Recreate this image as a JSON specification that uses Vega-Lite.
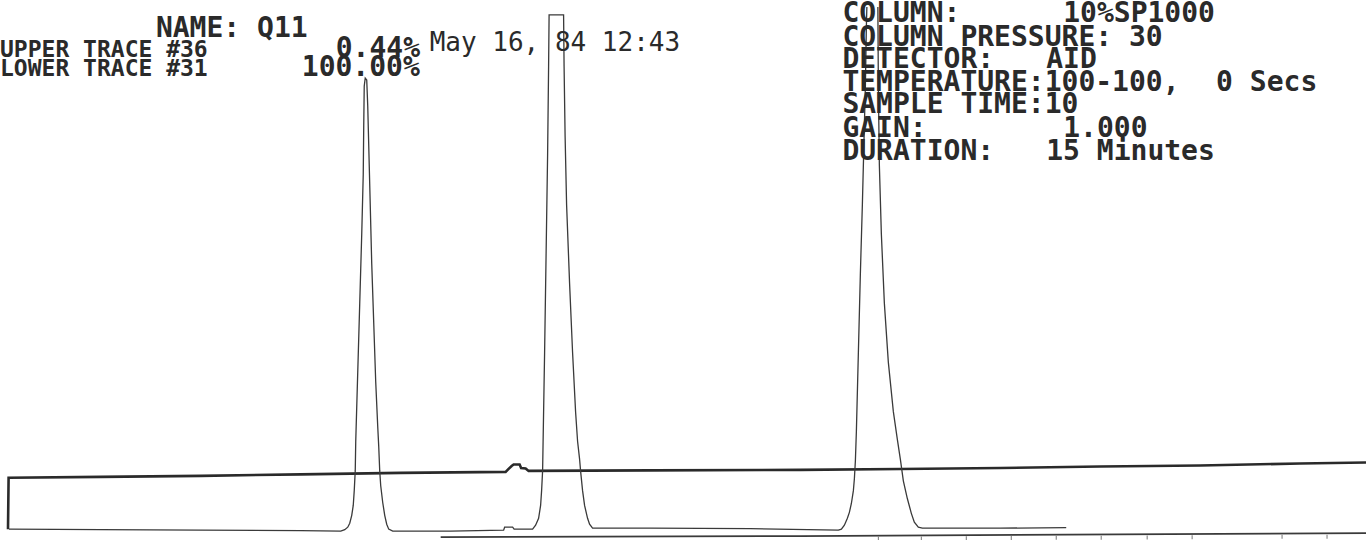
{
  "$schema": "https://vega.github.io/schema/vega-lite/v6.json",
  "width": 1366,
  "height": 540,
  "autosize": {"type": "fit", "contains": "padding"},
  "padding": 0,
  "background": "white",
  "config": {"view": {"stroke": null}},
  "datasets": {
    "traces": [
      {"trace": "upper #36", "t": 7, "signal": 11},
      {"trace": "upper #36", "t": 7.6, "signal": 63},
      {"trace": "upper #36", "t": 100, "signal": 64},
      {"trace": "upper #36", "t": 200, "signal": 65},
      {"trace": "upper #36", "t": 300, "signal": 66.5},
      {"trace": "upper #36", "t": 400, "signal": 68},
      {"trace": "upper #36", "t": 505, "signal": 69},
      {"trace": "upper #36", "t": 508, "signal": 72},
      {"trace": "upper #36", "t": 511, "signal": 75},
      {"trace": "upper #36", "t": 513, "signal": 76.5},
      {"trace": "upper #36", "t": 519, "signal": 76.5},
      {"trace": "upper #36", "t": 520.5, "signal": 73},
      {"trace": "upper #36", "t": 525, "signal": 72.5},
      {"trace": "upper #36", "t": 528, "signal": 70},
      {"trace": "upper #36", "t": 650, "signal": 70.5},
      {"trace": "upper #36", "t": 800, "signal": 71},
      {"trace": "upper #36", "t": 900, "signal": 72},
      {"trace": "upper #36", "t": 1000, "signal": 73},
      {"trace": "upper #36", "t": 1100, "signal": 74.5},
      {"trace": "upper #36", "t": 1200, "signal": 75.5},
      {"trace": "upper #36", "t": 1300, "signal": 77.5},
      {"trace": "upper #36", "t": 1366, "signal": 78.5},
      {"trace": "lower #31", "t": 8, "signal": 11},
      {"trace": "lower #31", "t": 100, "signal": 10.5},
      {"trace": "lower #31", "t": 200, "signal": 10},
      {"trace": "lower #31", "t": 300, "signal": 9.5},
      {"trace": "lower #31", "t": 340, "signal": 9},
      {"trace": "lower #31", "t": 344, "signal": 10.5},
      {"trace": "lower #31", "t": 347, "signal": 13},
      {"trace": "lower #31", "t": 349, "signal": 17},
      {"trace": "lower #31", "t": 351, "signal": 25},
      {"trace": "lower #31", "t": 352.5, "signal": 35},
      {"trace": "lower #31", "t": 353.5, "signal": 50},
      {"trace": "lower #31", "t": 354.5, "signal": 70},
      {"trace": "lower #31", "t": 355, "signal": 100},
      {"trace": "lower #31", "t": 357, "signal": 170},
      {"trace": "lower #31", "t": 359, "signal": 240},
      {"trace": "lower #31", "t": 361, "signal": 310},
      {"trace": "lower #31", "t": 362.5, "signal": 370},
      {"trace": "lower #31", "t": 363, "signal": 420},
      {"trace": "lower #31", "t": 363.5, "signal": 460},
      {"trace": "lower #31", "t": 364.5, "signal": 468},
      {"trace": "lower #31", "t": 366, "signal": 466},
      {"trace": "lower #31", "t": 367, "signal": 440},
      {"trace": "lower #31", "t": 368.5, "signal": 380},
      {"trace": "lower #31", "t": 369.5, "signal": 340},
      {"trace": "lower #31", "t": 371, "signal": 280},
      {"trace": "lower #31", "t": 373, "signal": 220},
      {"trace": "lower #31", "t": 375, "signal": 160},
      {"trace": "lower #31", "t": 377, "signal": 115},
      {"trace": "lower #31", "t": 378, "signal": 95},
      {"trace": "lower #31", "t": 379, "signal": 70},
      {"trace": "lower #31", "t": 380, "signal": 55},
      {"trace": "lower #31", "t": 382, "signal": 38},
      {"trace": "lower #31", "t": 384, "signal": 25},
      {"trace": "lower #31", "t": 386, "signal": 16},
      {"trace": "lower #31", "t": 388, "signal": 11},
      {"trace": "lower #31", "t": 392, "signal": 9},
      {"trace": "lower #31", "t": 450, "signal": 9},
      {"trace": "lower #31", "t": 503, "signal": 10},
      {"trace": "lower #31", "t": 504, "signal": 13},
      {"trace": "lower #31", "t": 512, "signal": 13},
      {"trace": "lower #31", "t": 513.5, "signal": 11},
      {"trace": "lower #31", "t": 532, "signal": 11},
      {"trace": "lower #31", "t": 535, "signal": 15},
      {"trace": "lower #31", "t": 538, "signal": 22},
      {"trace": "lower #31", "t": 540, "signal": 35},
      {"trace": "lower #31", "t": 541, "signal": 50},
      {"trace": "lower #31", "t": 542, "signal": 70},
      {"trace": "lower #31", "t": 542.5, "signal": 100},
      {"trace": "lower #31", "t": 544, "signal": 190},
      {"trace": "lower #31", "t": 545.5, "signal": 290},
      {"trace": "lower #31", "t": 547, "signal": 390},
      {"trace": "lower #31", "t": 548, "signal": 480},
      {"trace": "lower #31", "t": 548.5, "signal": 532},
      {"trace": "lower #31", "t": 563, "signal": 532},
      {"trace": "lower #31", "t": 563.5, "signal": 480},
      {"trace": "lower #31", "t": 564.5, "signal": 410},
      {"trace": "lower #31", "t": 566, "signal": 340},
      {"trace": "lower #31", "t": 569, "signal": 260},
      {"trace": "lower #31", "t": 572, "signal": 190},
      {"trace": "lower #31", "t": 575, "signal": 130},
      {"trace": "lower #31", "t": 577, "signal": 100},
      {"trace": "lower #31", "t": 579, "signal": 82},
      {"trace": "lower #31", "t": 580, "signal": 70},
      {"trace": "lower #31", "t": 582, "signal": 50},
      {"trace": "lower #31", "t": 584, "signal": 35},
      {"trace": "lower #31", "t": 587, "signal": 22},
      {"trace": "lower #31", "t": 589, "signal": 16},
      {"trace": "lower #31", "t": 592, "signal": 12},
      {"trace": "lower #31", "t": 650, "signal": 12},
      {"trace": "lower #31", "t": 750, "signal": 11.5},
      {"trace": "lower #31", "t": 838, "signal": 10},
      {"trace": "lower #31", "t": 841, "signal": 11},
      {"trace": "lower #31", "t": 844, "signal": 15},
      {"trace": "lower #31", "t": 847, "signal": 22},
      {"trace": "lower #31", "t": 849, "signal": 28},
      {"trace": "lower #31", "t": 851, "signal": 37},
      {"trace": "lower #31", "t": 853, "signal": 50},
      {"trace": "lower #31", "t": 854, "signal": 62},
      {"trace": "lower #31", "t": 855, "signal": 80},
      {"trace": "lower #31", "t": 856, "signal": 110},
      {"trace": "lower #31", "t": 858, "signal": 190},
      {"trace": "lower #31", "t": 860, "signal": 270},
      {"trace": "lower #31", "t": 862, "signal": 340},
      {"trace": "lower #31", "t": 863, "signal": 380},
      {"trace": "lower #31", "t": 865, "signal": 460},
      {"trace": "lower #31", "t": 866, "signal": 520},
      {"trace": "lower #31", "t": 867, "signal": 560},
      {"trace": "lower #31", "t": 877, "signal": 560},
      {"trace": "lower #31", "t": 877.5, "signal": 540},
      {"trace": "lower #31", "t": 878, "signal": 460},
      {"trace": "lower #31", "t": 879, "signal": 380},
      {"trace": "lower #31", "t": 881, "signal": 310},
      {"trace": "lower #31", "t": 884, "signal": 240},
      {"trace": "lower #31", "t": 888, "signal": 180},
      {"trace": "lower #31", "t": 893, "signal": 130},
      {"trace": "lower #31", "t": 897, "signal": 102},
      {"trace": "lower #31", "t": 900, "signal": 82},
      {"trace": "lower #31", "t": 903, "signal": 60},
      {"trace": "lower #31", "t": 907, "signal": 42},
      {"trace": "lower #31", "t": 911, "signal": 27},
      {"trace": "lower #31", "t": 914, "signal": 18},
      {"trace": "lower #31", "t": 918, "signal": 13},
      {"trace": "lower #31", "t": 922, "signal": 12},
      {"trace": "lower #31", "t": 1000, "signal": 12},
      {"trace": "lower #31", "t": 1066, "signal": 12.5},
      {"trace": "time axis", "t": 440, "signal": 3},
      {"trace": "time axis", "t": 800, "signal": 4},
      {"trace": "time axis", "t": 1366, "signal": 7}
    ],
    "axisTicks": [
      {"t": 878, "signal": 1.5},
      {"t": 921, "signal": 1.6},
      {"t": 966, "signal": 1.8},
      {"t": 1011, "signal": 2},
      {"t": 1056, "signal": 2.2},
      {"t": 1101, "signal": 2.4},
      {"t": 1147, "signal": 2.6},
      {"t": 1192, "signal": 2.8},
      {"t": 1282, "signal": 3.2},
      {"t": 1327, "signal": 3.4}
    ],
    "notesSmall": [
      {"t": -1, "signal": 489, "text": "UPPER TRACE #36"},
      {"t": -1, "signal": 470, "text": "LOWER TRACE #31"}
    ],
    "notesLarge": [
      {"t": 155, "signal": 510, "text": "NAME: Q11"},
      {"t": 335, "signal": 489, "text": "0.44%"},
      {"t": 301, "signal": 470, "text": "100.00%"},
      {"t": 842, "signal": 525, "text": "COLUMN:"},
      {"t": 1063, "signal": 525, "text": "10%SP1000"},
      {"t": 842, "signal": 500, "text": "COLUMN PRESSURE: 30"},
      {"t": 842, "signal": 478, "text": "DETECTOR:"},
      {"t": 1046, "signal": 478, "text": "AID"},
      {"t": 842, "signal": 455, "text": "TEMPERATURE:100-100,"},
      {"t": 1216, "signal": 455, "text": "0 Secs"},
      {"t": 842, "signal": 433, "text": "SAMPLE TIME:10"},
      {"t": 842, "signal": 408, "text": "GAIN:"},
      {"t": 1063, "signal": 408, "text": "1.000"},
      {"t": 842, "signal": 385, "text": "DURATION:"},
      {"t": 1046, "signal": 385, "text": "15 Minutes"}
    ],
    "notesDate": [
      {"t": 429, "signal": 495, "text": "May 16, 84 12:43"}
    ]
  },
  "layer": [
    {
      "data": {"name": "traces"},
      "transform": [{"filter": "datum.trace === 'upper #36'"}],
      "mark": {"type": "line", "stroke": "#2a2a2a", "strokeWidth": 2.6, "clip": true},
      "encoding": {
        "x": {"field": "t", "type": "quantitative", "scale": {"domain": [0, 1366], "nice": false, "zero": false}, "axis": null},
        "y": {"field": "signal", "type": "quantitative", "scale": {"domain": [0, 540], "nice": false, "zero": false}, "axis": null}
      }
    },
    {
      "data": {"name": "traces"},
      "transform": [{"filter": "datum.trace === 'lower #31'"}],
      "mark": {"type": "line", "stroke": "#3a3a3a", "strokeWidth": 1.3, "clip": true},
      "encoding": {
        "x": {"field": "t", "type": "quantitative"},
        "y": {"field": "signal", "type": "quantitative"}
      }
    },
    {
      "data": {"name": "traces"},
      "transform": [{"filter": "datum.trace === 'time axis'"}],
      "mark": {"type": "line", "stroke": "#3a3a3a", "strokeWidth": 1.8, "clip": true},
      "encoding": {
        "x": {"field": "t", "type": "quantitative"},
        "y": {"field": "signal", "type": "quantitative"}
      }
    },
    {
      "data": {"name": "axisTicks"},
      "mark": {"type": "tick", "orient": "vertical", "size": 4, "thickness": 1, "color": "#777777", "opacity": 1, "clip": true},
      "encoding": {
        "x": {"field": "t", "type": "quantitative"},
        "y": {"field": "signal", "type": "quantitative"}
      }
    },
    {
      "data": {"name": "notesSmall"},
      "mark": {"type": "text", "font": "DejaVu Sans Mono", "fontSize": 23, "fontWeight": "bold", "align": "left", "baseline": "alphabetic", "color": "#2a2a2a"},
      "encoding": {
        "x": {"field": "t", "type": "quantitative"},
        "y": {"field": "signal", "type": "quantitative"},
        "text": {"field": "text"}
      }
    },
    {
      "data": {"name": "notesLarge"},
      "mark": {"type": "text", "font": "DejaVu Sans Mono", "fontSize": 28, "fontWeight": "bold", "align": "left", "baseline": "alphabetic", "color": "#2a2a2a"},
      "encoding": {
        "x": {"field": "t", "type": "quantitative"},
        "y": {"field": "signal", "type": "quantitative"},
        "text": {"field": "text"}
      }
    },
    {
      "data": {"name": "notesDate"},
      "mark": {"type": "text", "font": "DejaVu Sans Mono", "fontSize": 26, "align": "left", "baseline": "alphabetic", "color": "#2a2a2a"},
      "encoding": {
        "x": {"field": "t", "type": "quantitative"},
        "y": {"field": "signal", "type": "quantitative"},
        "text": {"field": "text"}
      }
    }
  ]
}
